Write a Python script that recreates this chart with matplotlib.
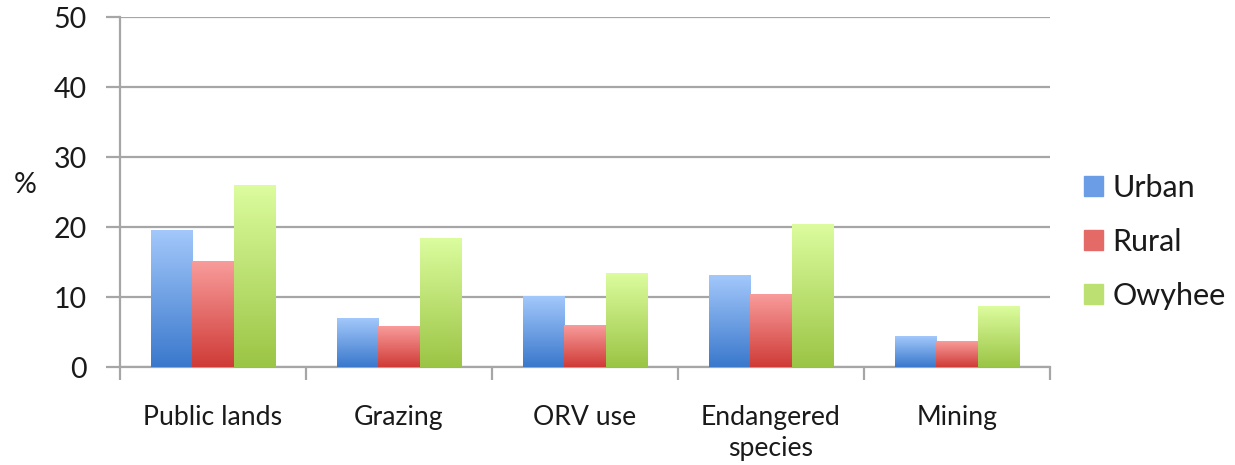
import numpy as np
import matplotlib
matplotlib.use("Agg")
import matplotlib.pyplot as plt
from matplotlib.patches import Rectangle
from matplotlib.colors import LinearSegmentedColormap

categories = ["Public lands", "Grazing", "ORV use", "Endangered\nspecies", "Mining"]
series = ["Urban", "Rural", "Owyhee"]
urban = [19.5, 6.9, 10.0, 13.0, 4.3]
rural = [15.0, 5.8, 5.9, 10.4, 3.7]
owyhee = [26.0, 18.4, 13.3, 20.4, 8.7]
values = [urban, rural, owyhee]
yticks = [0, 10, 20, 30, 40, 50]

top_colors = ["#A3C8FB", "#F89C9B", "#DCFC9E"]
bot_colors = ["#3A78CC", "#CF3B37", "#9BC545"]
mid_colors = ["#6A9DE6", "#E46A68", "#BCE072"]

plt.rcParams['font.family'] = ['Lato', 'DejaVu Sans']
plt.rcParams['text.color'] = '#1a1a1a'
fig = plt.figure(figsize=(12.35, 4.65), dpi=100)
ax = fig.add_axes([120/1235, 1 - 367/465, 930/1235, 350/465])

n = len(categories)
x = np.arange(n)
w = 0.223
offsets = [-w, 0, w]
grad = np.linspace(0, 1, 256).reshape(-1, 1)
for i, vals in enumerate(values):
    bars = ax.bar(x + offsets[i], vals, width=w, color=mid_colors[i], zorder=2,
                  linewidth=0)
    cmap = LinearSegmentedColormap.from_list(f"g{i}", [bot_colors[i], top_colors[i]])
    for b in bars:
        x0, h, bw = b.get_x(), b.get_height(), b.get_width()
        ax.imshow(grad, extent=[x0, x0 + bw, 0, h], origin='lower', cmap=cmap,
                  aspect='auto', zorder=3, interpolation='bicubic')

ax.set_xlim(-0.5, n - 0.5)
ax.set_ylim(0, 50)
ax.set_yticks(yticks)
ax.set_yticklabels([str(t) for t in yticks], fontsize=20.5, color='#1a1a1a')
ax.yaxis.grid(True, color="#A6A6A6", linewidth=1.6, zorder=0)
ax.set_axisbelow(True)

ax.set_xticks(np.arange(n + 1) - 0.5)
ax.set_xticklabels([])
ax.set_xticks(x, minor=True)
ax.set_xticklabels(categories, minor=True, fontsize=19.2, linespacing=1.3, va='top',
                   color='#1a1a1a')
ax.tick_params(axis='x', which='minor', length=0, pad=27)
ax.tick_params(axis='x', which='major', length=9, width=1.6, color="#A6A6A6", direction='out')
ax.tick_params(axis='y', length=10, width=1.6, color="#A6A6A6", direction='out', pad=14)

for s in ['top', 'right']:
    ax.spines[s].set_visible(False)
for s in ['left', 'bottom']:
    ax.spines[s].set_color("#A6A6A6")
    ax.spines[s].set_linewidth(1.6)

fig.text(25/1235, 1 - 185/465, "%", fontsize=20.5, ha='center', va='center')

handles = [Rectangle((0, 0), 1, 1, color=c) for c in mid_colors]
leg = fig.legend(handles, series, loc='center left', bbox_to_anchor=(1084/1235, 1 - 242/465),
                 frameon=False, fontsize=22, handlelength=0.62, handleheight=0.62,
                 handletextpad=0.32, labelspacing=0.85, borderpad=0, borderaxespad=0)

fig.savefig("out.png", dpi=100)
